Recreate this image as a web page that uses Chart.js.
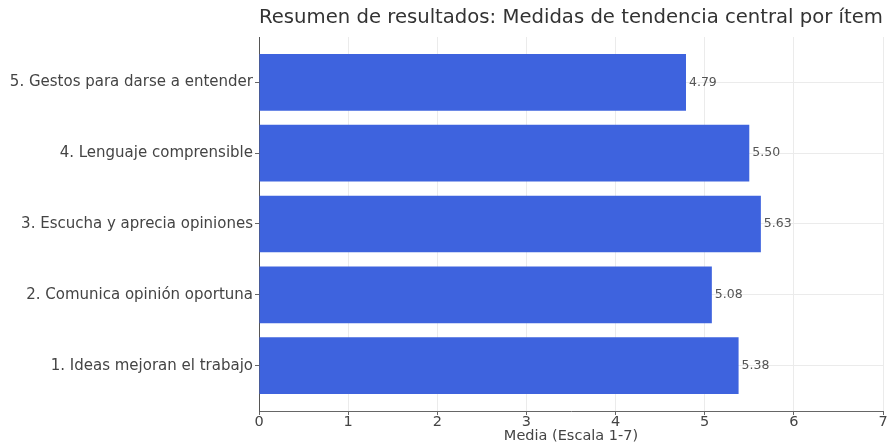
<!DOCTYPE html>
<html>
<head>
<meta charset="utf-8">
<script src="https://cdn.jsdelivr.net/npm/chart.js@4.4.1/dist/chart.umd.min.js"></script>
<style>
  html, body { margin: 0; padding: 0; background: #ffffff; }
  #wrap { width: 888px; height: 442px; }
</style>
</head>
<body>
<div id="wrap"><canvas id="chart" width="888" height="442"></canvas></div>
<script>
// Items (bottom to top) and their mean scores on a 1-7 scale
const categories = [
  "1. Ideas mejoran el trabajo",
  "2. Comunica opinión oportuna",
  "3. Escucha y aprecia opiniones",
  "4. Lenguaje comprensible",
  "5. Gestos para darse a entender"
];
const means = [5.38, 5.08, 5.63, 5.50, 4.79];
const xTicks = [0, 1, 2, 3, 4, 5, 6, 7];

const FONT = "'DejaVu Sans', sans-serif";

// Writes each mean just to the right of its bar
const valueLabels = {
  id: "valueLabels",
  afterDatasetsDraw(chart) {
    const ctx = chart.ctx;
    const meta = chart.getDatasetMeta(0);
    ctx.save();
    ctx.font = "12.5px " + FONT;
    ctx.fillStyle = "#555555";
    ctx.textAlign = "left";
    ctx.textBaseline = "middle";
    meta.data.forEach((bar, i) => {
      ctx.fillText(means[i].toFixed(2), bar.x + 3, bar.y);
    });
    ctx.restore();
  }
};

new Chart(document.getElementById("chart"), {
  type: "bar",
  data: {
    datasets: [{
      data: means.map((v, i) => ({ x: v, y: i })),
      backgroundColor: "#3e63de",
      borderWidth: 0,
      barPercentage: 0.8,
      categoryPercentage: 1.0
    }]
  },
  options: {
    indexAxis: "y",
    responsive: false,
    animation: false,
    layout: { padding: { left: 0, right: 5, top: 0, bottom: 0 } },
    plugins: {
      legend: { display: false },
      tooltip: { enabled: false },
      title: {
        display: true,
        fullSize: false,
        text: "Resumen de resultados: Medidas de tendencia central por ítem",
        color: "#333333",
        font: { family: FONT, size: 20, weight: "normal", lineHeight: 1.2 },
        padding: { top: 6, bottom: 7 }
      }
    },
    scales: {
      x: {
        type: "linear",
        min: 0,
        max: 7,
        afterBuildTicks(scale) { scale.ticks = xTicks.map(v => ({ value: v })); },
        ticks: { color: "#444444", font: { family: FONT, size: 14.5 }, padding: -1 },
        grid: { color: "#ebebeb", tickColor: "#666666", tickLength: 4 },
        border: { display: true, color: "#666666", width: 1 },
        title: {
          display: true,
          text: "Media (Escala 1-7)",
          color: "#444444",
          font: { family: FONT, size: 14.5, lineHeight: 1 },
          padding: { top: 0, bottom: -1 }
        },
        afterFit(scale) { scale.height = 31; }
      },
      y: {
        type: "linear",
        offset: false,
        min: -0.64,
        max: 4.64,
        afterBuildTicks(scale) { scale.ticks = categories.map((_, i) => ({ value: i })); },
        ticks: {
          color: "#444444",
          font: { family: FONT, size: 15 },
          padding: 2,
          callback: (v) => categories[v]
        },
        grid: { offset: false, color: "#ebebeb", tickColor: "#666666", tickLength: 4 },
        border: { display: true, color: "#555555", width: 1 },
        afterFit(scale) { scale.width = 259; }
      }
    }
  },
  plugins: [valueLabels]
});
</script>
</body>
</html>
